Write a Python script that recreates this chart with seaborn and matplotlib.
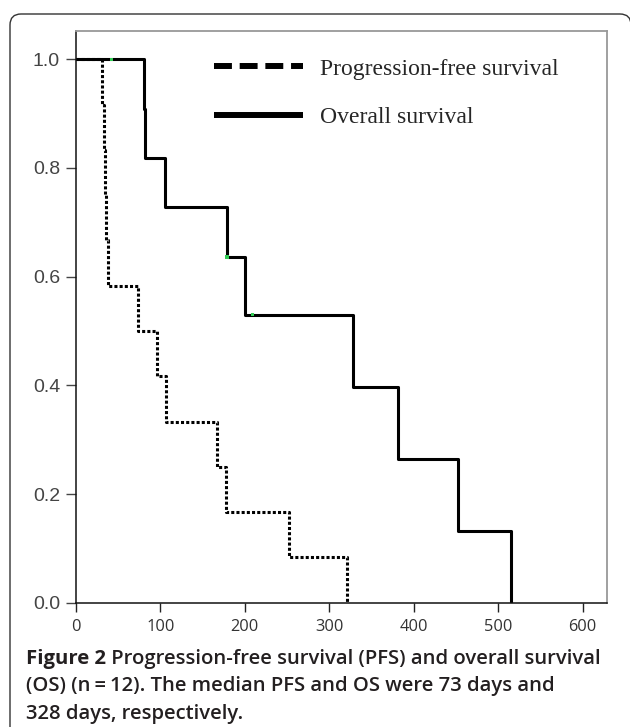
import numpy as np
import pandas as pd
import matplotlib
matplotlib.use("Agg")
import matplotlib.pyplot as plt
from matplotlib.lines import Line2D
from matplotlib.patches import FancyBboxPatch
from matplotlib.transforms import IdentityTransform
import seaborn as sns

# ---------------- data ----------------
pfs_times = [31, 33, 34, 36, 38, 73, 96, 107, 167, 178, 252, 321]
pfs_events = [1, 1, 1, 1, 1, 1, 1, 1, 1, 1, 1, 1]

os_times = [42, 80, 82, 105, 179, 179, 200, 209, 328, 382, 453, 515]
os_events = [0, 1, 1, 1, 1, 0, 1, 0, 1, 1, 1, 1]

legend_labels = ["Progression-free survival", "Overall survival"]
x_ticks = [0, 100, 200, 300, 400, 500, 600]
y_ticks = [0.0, 0.2, 0.4, 0.6, 0.8, 1.0]
caption_bold = "Figure 2"
caption_rest = (" Progression-free survival (PFS) and overall survival\n"
                "(OS) (n\u2009=\u200912). The median PFS and OS were 73 days and\n"
                "328 days, respectively.")


def kaplan_meier(times, events):
    df = pd.DataFrame({"t": times, "e": events})
    n = len(df)
    s = 1.0
    xs, ys = [0.0], [1.0]
    cens_x, cens_y = [], []
    at_risk = n
    for t, grp in df.groupby("t", sort=True):
        d = int(grp["e"].sum())
        c = int((grp["e"] == 0).sum())
        if d > 0:
            s = s * (at_risk - d) / at_risk
            xs.append(t)
            ys.append(s)
        if c > 0:
            cens_x.append(t)
            cens_y.append(s)
        at_risk -= d + c
    return pd.DataFrame({"time": xs, "surv": ys}), pd.DataFrame({"time": cens_x, "surv": cens_y})


pfs_curve, pfs_cens = kaplan_meier(pfs_times, pfs_events)
os_curve, os_cens = kaplan_meier(os_times, os_events)

# ---------------- figure ----------------
sns.set_theme(style="white")
W, H = 630, 727
fig = plt.figure(figsize=(W / 100, H / 100), dpi=100)
fig.patch.set_facecolor("white")

# rounded border box in pixel coordinates (right/bottom sides run off the image)
box = FancyBboxPatch((10, -30), 631 - 10, (H - 14) + 30,
                     boxstyle="round,pad=0,rounding_size=11",
                     transform=IdentityTransform(), fill=False,
                     edgecolor="#333333", linewidth=1.0)
fig.patches.append(box)

ax = fig.add_axes([76 / W, (H - 602.7) / H, (607 - 76) / W, (602.7 - 30.7) / H])
ax.set_facecolor("white")

lw = 2.2
sns.lineplot(data=pfs_curve, x="time", y="surv", ax=ax, estimator=None, sort=False,
             drawstyle="steps-post", color="black", linewidth=lw,
             dashes=False, legend=False)
ax.lines[-1].set_dashes((1.0, 0.7))
ax.lines[-1].set_dash_capstyle("butt")
sns.lineplot(data=os_curve, x="time", y="surv", ax=ax, estimator=None, sort=False,
             drawstyle="steps-post", color="black", linewidth=lw, legend=False)
sns.scatterplot(data=os_cens, x="time", y="surv", ax=ax, marker="s", s=6,
                color="#33cc55", edgecolor="none", zorder=5, legend=False)

ax.set_xlim(0, 629)
ax.set_ylim(0, 1.0526)
ax.set_xticks(x_ticks)
ax.set_xticklabels([str(v) for v in x_ticks])
ax.set_yticks(y_ticks)
ax.set_yticklabels([f"{v:.1f}" for v in y_ticks])
ax.set_xlabel("")
ax.set_ylabel("")

ax.tick_params(axis="y", direction="out", length=7.5, width=1.0, color="#444444",
               pad=4, labelsize=14, labelcolor="#444444", left=True)
ax.tick_params(axis="x", direction="out", length=6.5, width=1.0, color="#222222",
               pad=5, labelsize=11.8, labelcolor="#333333", bottom=True)
for lab in ax.get_yticklabels():
    lab.set_family(["Liberation Sans", "DejaVu Sans"])
for lab in ax.get_xticklabels():
    lab.set_family(["Open Sans", "DejaVu Sans"])

for side in ["left", "bottom"]:
    ax.spines[side].set_color("#111111")
    ax.spines[side].set_linewidth(1.1)
for side in ["top", "right"]:
    ax.spines[side].set_color("#999999")
    ax.spines[side].set_linewidth(1.3)

handles = [Line2D([0], [0], color="black", linewidth=4.3, dashes=(3.0, 1.3),
                  dash_capstyle="butt"),
           Line2D([0], [0], color="black", linewidth=4.3, solid_capstyle="butt")]
leg = fig.legend(handles, legend_labels, loc="upper left",
                 bbox_to_anchor=(213.7 / W, (H - 58) / H),
                 bbox_transform=fig.transFigure, frameon=False,
                 borderpad=0, borderaxespad=0, handlelength=3.8,
                 handletextpad=0.72, labelspacing=1.14,
                 prop={"family": ["Liberation Serif", "DejaVu Serif"], "size": 17})

# caption
cap_font = ["Open Sans", "DejaVu Sans"]
cap_size = 14.6
t1 = fig.text(26 / W, (H - 664) / H, caption_bold, fontsize=cap_size, fontweight="bold",
              family=cap_font, color="#231f20", ha="left", va="baseline")
fig.canvas.draw()
bb = t1.get_window_extent()
lines = caption_rest.split("\n")
fig.text(bb.x1 / W, (H - 664) / H, lines[0], fontsize=cap_size, fontweight="semibold",
         family=cap_font, color="#231f20", ha="left", va="baseline")
for i, ln in enumerate(lines[1:], start=1):
    fig.text(26 / W, (H - 664 - 27.5 * i) / H, ln, fontsize=cap_size, fontweight="semibold",
             family=cap_font, color="#231f20", ha="left", va="baseline")

fig.savefig("out.png", dpi=100, facecolor="white")
